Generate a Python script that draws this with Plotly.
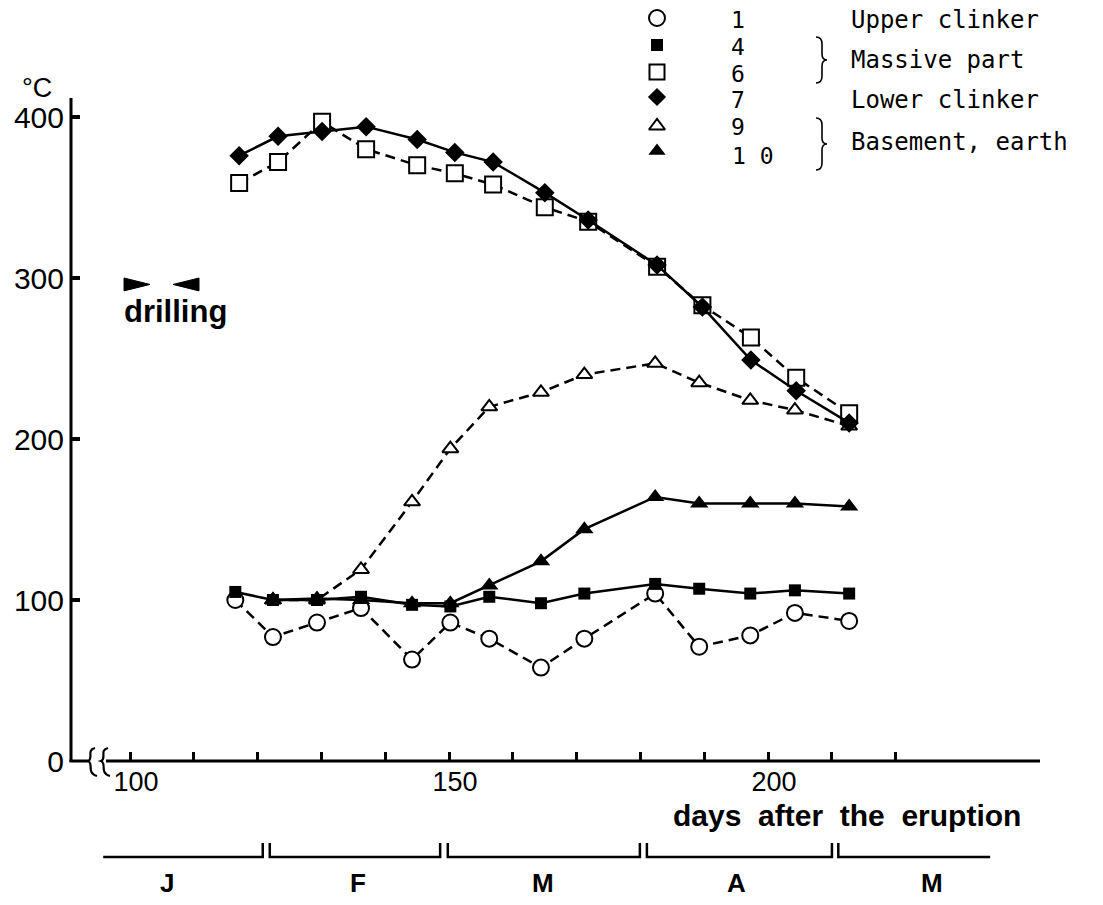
import plotly.graph_objects as go

# ---------------- data ----------------
days_low = [116.5, 122.4, 129.3, 136.2, 144.2, 150.2, 156.3, 164.4, 171.2, 182.3, 189.2, 197.2, 204.2, 212.7]
days_up = [117.1, 123.2, 130.1, 137.0, 145.0, 150.9, 156.9, 165.0, 171.8, 182.6, 189.7, 197.3, 204.4, 212.7]

s1_upper_clinker = [100, 77, 86, 95, 63, 86, 76, 58, 76, 104, 71, 78, 92, 87]
s4_massive = [105, 100, 100, 102, 97, 96, 102, 98, 104, 110, 107, 104, 106, 104]
s6_massive = [359, 372, 397, 380, 370, 365, 358, 344, 335, 307, 283, 263, 238, 216]
s7_lower_clinker = [376, 388, 391, 394, 386, 378, 372, 353, 336, 308, 282, 249, 230, 210]
days_9_10 = days_low[1:]
s9_basement = [100, 100, 119, 161, 194, 220, 229, 240, 247, 235, 224, 218, 208]
s10_basement = [100, 101, 100, 98, 98, 109, 124, 144, 164, 160, 160, 160, 158]

x_tickvals = [100, 110, 120, 130, 140, 150, 160, 170, 180, 190, 200, 210, 220]
x_ticktext = ["100", "", "", "", "", "150", "", "", "", "", "200", "", ""]
y_tickvals = [0, 100, 200, 300, 400]

month_labels = ["J", "F", "M", "A", "M"]
month_start = [95.8, 121.9, 149.8, 181.0, 211.0]
month_end = [120.8, 148.6, 179.9, 210.0, 234.8]
month_label_x = [105.8, 135.7, 164.7, 195.1, 225.7]
month_left_tick = [False, True, True, True, True]
month_right_tick = [True, True, True, True, False]

drill_start = [99.06, 103.13]   # right-pointing wedge (base, tip)
drill_end = [110.81, 106.74]    # left-pointing wedge (base, tip)
drill_level = [300.0, 296.0, 292.0]

legend_numbers = ["1", "4", "6", "7", "9", "1 0"]
legend_groups = ["Upper clinker", "Massive part", "Lower clinker", "Basement, earth"]

# ---------------- geometry (pixels of the 1103x905 page) ----------------
FW, FH = 1103, 905
L, R, T, B = 71, 1103, 0, 761          # plot area spans to top/right edges
AX_TOP, AX_RIGHT = 98, 1040            # visible axis extents
PX_PER_DAY, PX_PER_DEG = 6.381, 1.61
XR = [90.75, 90.75 + (R - L) / PX_PER_DAY]
YR = [0, (B - T) / PX_PER_DEG]


def px(x):
    return (x - L) / (R - L)


def py(y):
    return (B - y) / (B - T)


FONT = "Liberation Sans, Arial, sans-serif"
MONO = "DejaVu Sans Mono, monospace"
LW = 2.5
DASH = "10px,6px"

fig = go.Figure()


def add_series(x, y, symbol, size, filled, dashed):
    fig.add_trace(go.Scatter(
        x=x, y=y, mode="lines+markers",
        line=dict(color="black", width=LW, dash=DASH if dashed else "solid"),
        marker=dict(symbol=symbol, size=size,
                    color="black" if filled else "white",
                    line=dict(color="black", width=0 if filled else 2)),
        showlegend=False, hoverinfo="skip"))


add_series(days_9_10, s9_basement, "triangle-up", 14, False, True)
add_series(days_up, s6_massive, "square", 16, False, True)
add_series(days_low, s1_upper_clinker, "circle", 16, False, True)
add_series(days_low, s4_massive, "square", 12, True, False)
add_series(days_9_10, s10_basement, "triangle-up", 16, True, False)
add_series(days_up, s7_lower_clinker, "diamond", 15, True, False)

# ---------------- legend key symbols (overlay axes in paper units) ----------------
leg_sym = [("circle", 16, False), ("square", 12, True), ("square", 15, False),
           ("diamond", 14, True), ("triangle-up", 14, False), ("triangle-up", 15, True)]
leg_sym_y = [18, 45, 72, 97, 126, 151]
for (sym, sz, filled), yy in zip(leg_sym, leg_sym_y):
    fig.add_trace(go.Scatter(
        x=[px(657)], y=[py(yy)], xaxis="x2", yaxis="y2", mode="markers",
        cliponaxis=False,
        marker=dict(symbol=sym, size=sz, color="black" if filled else "white",
                    line=dict(color="black", width=0 if filled else 2)),
        showlegend=False, hoverinfo="skip"))

ann = []
leg_num_y = [20, 47, 74, 100, 127, 156]
for t, yy in zip(legend_numbers, leg_num_y):
    ann.append(dict(x=px(738 if t != "1 0" else 753), y=py(yy), xref="paper", yref="paper",
                    text=t, showarrow=False, xanchor="center", yanchor="middle",
                    font=dict(family=MONO, size=23, color="black")))
for t, yy in zip(legend_groups, [20, 60, 100, 142]):
    ann.append(dict(x=px(849), y=py(yy), xref="paper", yref="paper",
                    text=t, showarrow=False, xanchor="left", yanchor="middle",
                    font=dict(family=MONO, size=24, color="black")))

shapes = []


def brace(x, y0, y1):
    m = (y0 + y1) / 2
    pts = [("M", x - 5, y0), ("Q", x + 1, y0, x + 1, y0 + 7), ("L", x + 1, m - 6),
           ("Q", x + 1, m, x + 6, m), ("Q", x + 1, m, x + 1, m + 6), ("L", x + 1, y1 - 7),
           ("Q", x + 1, y1, x - 5, y1)]
    s = ""
    for p in pts:
        if p[0] == "Q":
            s += f"Q {px(p[1]):.5f},{py(p[2]):.5f} {px(p[3]):.5f},{py(p[4]):.5f} "
        else:
            s += f"{p[0]} {px(p[1]):.5f},{py(p[2]):.5f} "
    return dict(type="path", path=s, xref="paper", yref="paper",
                line=dict(color="black", width=1.6))


shapes.append(brace(821, 37, 83))
shapes.append(brace(821, 118, 170))

# ---------------- axis lines (y axis and x axis with break) ----------------
shapes.append(dict(type="line", xref="paper", yref="paper", x0=0, x1=0,
                   y0=py(AX_TOP), y1=py(B + 1), line=dict(color="black", width=3)))
shapes.append(dict(type="line", xref="paper", yref="paper", x0=px(L - 1.5), x1=px(88),
                   y0=0, y1=0, line=dict(color="black", width=3)))
shapes.append(dict(type="line", xref="paper", yref="paper", x0=px(106), x1=px(AX_RIGHT),
                   y0=0, y1=0, line=dict(color="black", width=3)))
for off in (0, 13):
    p = (f"M {px(95+off):.5f},{py(748):.5f} "
         f"C {px(86+off):.5f},{py(750):.5f} {px(94+off):.5f},{py(759):.5f} {px(88+off):.5f},{py(761):.5f} "
         f"C {px(94+off):.5f},{py(763):.5f} {px(86+off):.5f},{py(773):.5f} {px(97+off):.5f},{py(776):.5f}")
    shapes.append(dict(type="path", path=p, xref="paper", yref="paper",
                       line=dict(color="black", width=2.2)))

# ---------------- month brackets ----------------
yb, yt = py(857), py(843)
for s, e, lt, rt in zip(month_start, month_end, month_left_tick, month_right_tick):
    path = ""
    if lt:
        path += f"M {s},{yt:.5f} L {s},{yb:.5f} "
    else:
        path += f"M {s},{yb:.5f} "
    path += f"L {e},{yb:.5f} "
    if rt:
        path += f"L {e},{yt:.5f}"
    shapes.append(dict(type="path", path=path, xref="x", yref="paper",
                       line=dict(color="black", width=2.5)))
for lab, xx in zip(month_labels, month_label_x):
    ann.append(dict(x=xx, y=py(883), xref="x", yref="paper", text=lab, showarrow=False,
                    xanchor="center", yanchor="middle",
                    font=dict(family=FONT, size=26, color="black", weight="bold")))

# ---------------- drilling marks ----------------
shapes.append(dict(type="path", xref="x", yref="y",
                   path=f"M {drill_start[0]},{drill_level[0]} L {drill_start[1]},{drill_level[1]} L {drill_start[0]},{drill_level[2]} Z",
                   fillcolor="black", line=dict(color="black", width=1)))
shapes.append(dict(type="path", xref="x", yref="y",
                   path=f"M {drill_end[0]},{drill_level[0]} L {drill_end[1]},{drill_level[1]} L {drill_end[0]},{drill_level[2]} Z",
                   fillcolor="black", line=dict(color="black", width=1)))
ann.append(dict(x=107.05, y=279, xref="x", yref="y", text="drilling", showarrow=False,
                xanchor="center", yanchor="middle",
                font=dict(family=FONT, size=31, color="black", weight="bold")))

# ---------------- axis titles ----------------
ann.append(dict(x=px(37), y=py(88), xref="paper", yref="paper", text="°C", showarrow=False,
                xanchor="center", yanchor="middle",
                font=dict(family=FONT, size=27, color="black")))
ann.append(dict(x=px(847), y=py(815), xref="paper", yref="paper",
                text="days\u00a0 after\u00a0 the\u00a0 eruption", showarrow=False,
                xanchor="center", yanchor="middle", borderpad=0,
                font=dict(family=FONT, size=30, color="black", weight="bold")))

fig.update_layout(
    width=FW, height=FH, autosize=False,
    margin=dict(l=L, r=FW - R, t=T, b=FH - B, pad=0),
    paper_bgcolor="white", plot_bgcolor="white",
    showlegend=False,
    xaxis=dict(range=XR, showline=False, showgrid=False, zeroline=False,
               ticks="inside", ticklen=9, tickwidth=2.5, tickcolor="black",
               tickvals=x_tickvals, ticktext=x_ticktext, ticklabelstandoff=2,
               ticklabelshift=6,
               tickfont=dict(family=FONT, size=27, color="black")),
    yaxis=dict(range=YR, showline=False, showgrid=False, zeroline=False,
               ticks="inside", ticklen=9, tickwidth=4, tickcolor="black",
               tickvals=y_tickvals, ticklabelstandoff=6,
               tickfont=dict(family=FONT, size=30, color="black")),
    xaxis2=dict(range=[0, 1], overlaying="x", visible=False),
    yaxis2=dict(range=[0, 1], overlaying="y", visible=False),
    shapes=shapes, annotations=ann,
)

fig.write_html("out.html")
